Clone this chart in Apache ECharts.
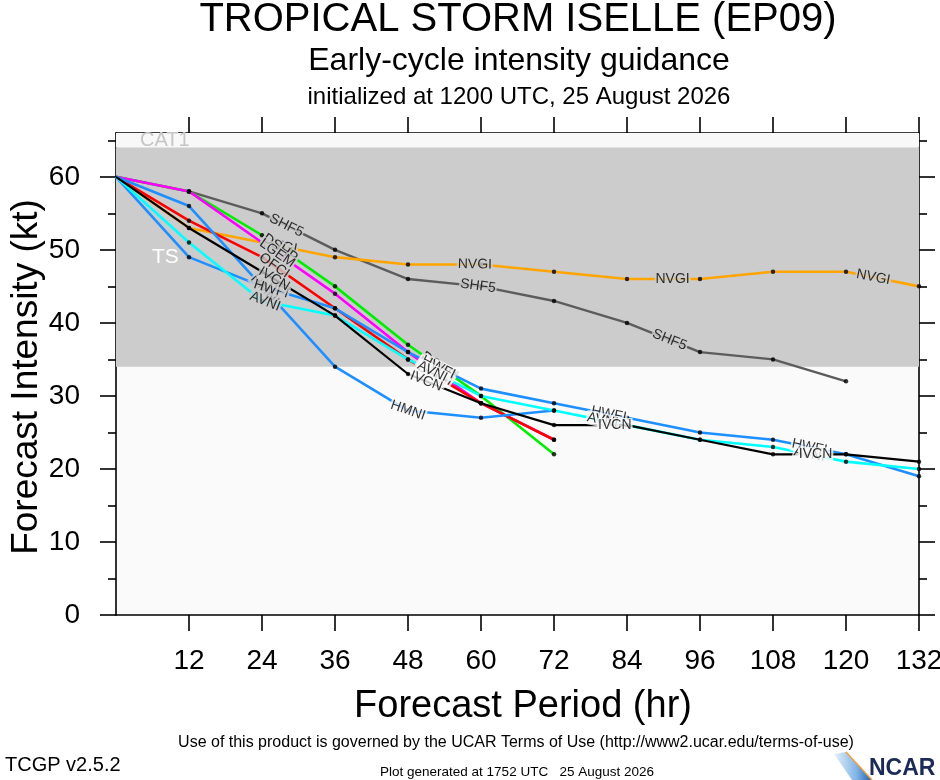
<!DOCTYPE html>
<html><head><meta charset="utf-8">
<script src="https://cdn.jsdelivr.net/npm/echarts@6/dist/echarts.min.js"></script>
<style>html,body{margin:0;padding:0;background:#fff}#c{width:940px;height:780px}</style>
</head><body><div id="c"></div>
<script>
// ---------------- data ----------------
const hours = [0,12,24,36,48,60,72,84,96,108,120,132];
const xTickLabels = [12,24,36,48,60,72,84,96,108,120,132];
const yTickLabels = [0,10,20,30,40,50,60];
const yMinorTicks = [5,15,25,35,45,55,65];

const SHF5 = [60,58,55,50,46,45,43,40,36,35,32];
const NVGI = [60,53,51,49,48,48,47,46,46,47,47,45];
const DSHP = [60,58,52,45,37,30,22];
const LGEM = [60,58,51,44,36,29,24];
const OFCI = [60,54,49,42,35,29,24];
const HMNI = [60,56,45,34,28,27,28];
const HWFI = [60,49,45,42,36,31,29,27,25,24,22,19];
const AVNI = [60,51,43,41,35,30,28,26,24,23,21,20];
const IVCN = [60,53,47,41,33,29,26,26,24,22,22,21];

const modelNames = ['SHF5','NVGI','DSHP','LGEM','OFCI','HMNI','HWFI','AVNI','IVCN'];
const modelValues = {SHF5, NVGI, DSHP, LGEM, OFCI, HMNI, HWFI, AVNI, IVCN};

// ---------------- layout / style ----------------
const modelStyle = {
  SHF5:{color:'#5c5c5c', width:2.4},
  NVGI:{color:'#ffa500', width:2.6},
  DSHP:{color:'#00ee00', width:2.6},
  LGEM:{color:'#ff00ff', width:2.6},
  OFCI:{color:'#ff0000', width:2.6},
  HMNI:{color:'#1e8fff', width:2.6},
  HWFI:{color:'#1e8fff', width:2.6},
  AVNI:{color:'#00ffff', width:2.6},
  IVCN:{color:'#000000', width:2.2}
};
const labelHours = {
  SHF5:[28,59.5,91],
  NVGI:[27,59,91.5,124.5],
  DSHP:[27,53],
  LGEM:[26.5,52.5],
  OFCI:[26,52],
  HMNI:[24.5,48],
  HWFI:[25.5,53,81,114],
  AVNI:[24.5,52,80,114],
  IVCN:[26,51,82,115]
};
const FONT = "'Liberation Sans', Arial, Helvetica, sans-serif";

function interp(vals, h){
  for (let i = 0; i < vals.length - 1; i++) {
    if (h >= hours[i] && h <= hours[i+1]) {
      const t = (h - hours[i]) / (hours[i+1] - hours[i]);
      return vals[i] + t * (vals[i+1] - vals[i]);
    }
  }
  return vals[vals.length-1];
}

const chart = echarts.init(document.getElementById('c'), null, {renderer:'canvas'});

const tickStyle = {color:'#000', width:1.6};
function xAx(pos, showLabel){
  return {type:'value', position:pos, min:0, max:132, interval:12,
    axisLine:{show:true, onZero:false, lineStyle:{color:'#000', width:1.6}},
    axisTick:{show:true, inside:false, length:16, customValues:xTickLabels, lineStyle:tickStyle},
    axisLabel:{show:showLabel, customValues:xTickLabels, fontSize:28, color:'#000', margin:32, fontFamily:FONT},
    splitLine:{show:false}};
}
function yAx(pos, major, showLabel){
  return {type:'value', position:pos, min:0, max:66, interval:10,
    axisLine:{show:major, onZero:false, lineStyle:{color:'#000', width:1.6}},
    axisTick:{show:true, inside:false, length: major ? 16 : 8, customValues: major ? yTickLabels : yMinorTicks, lineStyle:tickStyle},
    axisLabel:{show:showLabel, customValues:yTickLabels, fontSize:28, color:'#000', margin:36, fontFamily:FONT},
    splitLine:{show:false}};
}

const series = [];
series.push({type:'line', data:[], silent:true, z:1,
  markArea:{z:1, silent:true, itemStyle:{color:'rgba(248,248,248,1)'},
    label:{show:true, position:'insideLeft', distance:24, color:'#c6c6c6', fontSize:20, fontFamily:FONT},
    data:[[{yAxis:64, name:'CAT1'},{yAxis:66}]]}});
series.push({type:'line', data:[], silent:true, z:2,
  markArea:{z:2, silent:true, itemStyle:{color:'#cccccc'},
    label:{show:true, position:'insideLeft', distance:36, color:'#ffffff', fontSize:21, fontFamily:FONT},
    data:[[{yAxis:34, name:'TS'},{yAxis:64}]]}});

modelNames.forEach((m, k) => {
  const vals = modelValues[m];
  series.push({type:'line', name:m, silent:true, z:3, showSymbol:false, symbol:'none',
    data: vals.map((v,i)=>[hours[i], v]),
    lineStyle:{color:modelStyle[m].color, width:modelStyle[m].width}, animation:false});
});
modelNames.forEach((m) => {
  const vals = modelValues[m];
  series.push({type:'scatter', name:m+'-pts', silent:true, z:5, symbol:'circle', symbolSize:4.5,
    itemStyle:{color:'#000'},
    data: vals.map((v,i)=>[hours[i], v]).slice(1), animation:false});
});

const option = {
  animation:false,
  backgroundColor:'#ffffff',
  grid:{left:116, right:21, top:133, bottom:165, show:true, backgroundColor:'#fafafa', borderWidth:0, containLabel:false, outerBoundsMode:'none'},
  xAxis:[xAx('bottom', true), xAx('top', false)],
  yAxis:[yAx('left', true, true), yAx('left', false, false), yAx('right', true, false), yAx('right', false, false)],
  series: series,
  graphic:[
    {type:'text', x:518, y:20, style:{text:'TROPICAL STORM ISELLE (EP09)', font:'40px '+FONT, fill:'#000', textAlign:'center', textVerticalAlign:'middle'}},
    {type:'text', x:519, y:61, style:{text:'Early-cycle intensity guidance', font:'32px '+FONT, fill:'#000', textAlign:'center', textVerticalAlign:'middle'}},
    {type:'text', x:519, y:97, style:{text:'initialized at 1200 UTC, 25 August 2026', font:'24px '+FONT, fill:'#000', textAlign:'center', textVerticalAlign:'middle'}},
    {type:'text', x:27, y:377, rotation:Math.PI/2, style:{text:'Forecast Intensity (kt)', font:'37px '+FONT, fill:'#000', textAlign:'center', textVerticalAlign:'middle'}},
    {type:'text', x:523, y:707, style:{text:'Forecast Period (hr)', font:'38px '+FONT, fill:'#000', textAlign:'center', textVerticalAlign:'middle'}},
    {type:'text', x:516, y:743, style:{text:'Use of this product is governed by the UCAR Terms of Use (http://www2.ucar.edu/terms-of-use)', font:'16px '+FONT, fill:'#000', textAlign:'center', textVerticalAlign:'middle'}},
    {type:'text', x:5, y:765, style:{text:'TCGP v2.5.2', font:'20px '+FONT, fill:'#000', textAlign:'left', textVerticalAlign:'middle'}},
    {type:'text', x:517, y:772, style:{text:'Plot generated at 1752 UTC   25 August 2026', font:'13.5px '+FONT, fill:'#000', textAlign:'center', textVerticalAlign:'middle'}},
    {type:'polygon', shape:{points:[[834,754],[846,752],[872,780],[852,780]]},
      style:{fill:new echarts.graphic.LinearGradient(0,0,1,0,[{offset:0,color:'#e8f1fb'},{offset:0.6,color:'#7fb3e6'},{offset:1,color:'#1d5fae'}])}},
    {type:'polyline', shape:{points:[[846,752],[872,780]]}, style:{stroke:'#f0a040', lineWidth:1.5}},
    {type:'text', x:869, y:769, style:{text:'NCAR', font:'bold 23px '+FONT, fill:'#1b2a57', textAlign:'left', textVerticalAlign:'middle'}}
  ]
};
chart.setOption(option);

// ---------------- line labels (rotated along the line) ----------------
const labelData = [];
modelNames.forEach((m) => {
  const vals = modelValues[m];
  labelHours[m].forEach((h) => {
    const v = interp(vals, h);
    const d = 1.5;
    const p1 = chart.convertToPixel({xAxisIndex:0, yAxisIndex:0}, [h-d, interp(vals, h-d)]);
    const p2 = chart.convertToPixel({xAxisIndex:0, yAxisIndex:0}, [h+d, interp(vals, h+d)]);
    const ang = -Math.atan2(p2[1]-p1[1], p2[0]-p1[0]) * 180 / Math.PI;
    labelData.push({value:[h, v], name:m,
      label:{show:true, position:'inside', formatter:m, rotate:ang,
        backgroundColor: (v >= 34 && v <= 64) ? '#cccccc' : '#fafafa',
        padding:[0,1], color:'#000', fontSize:14, fontFamily:FONT}});
  });
});
series.push({type:'scatter', name:'labels', silent:true, z:6, symbolSize:0, data:labelData, animation:false});
chart.setOption({series: series});
</script></body></html>
